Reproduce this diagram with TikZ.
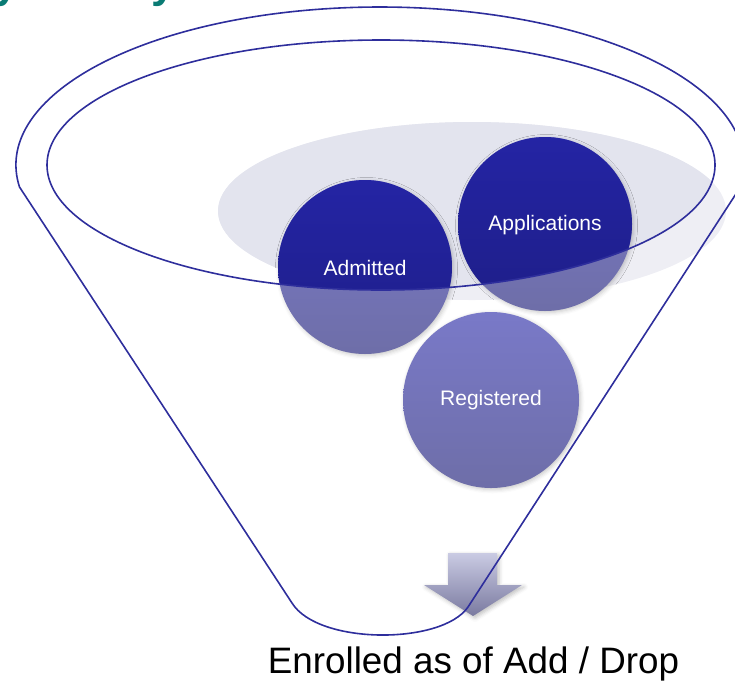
\documentclass[tikz,border=0pt]{standalone}
\usepackage{fontspec}
\setmainfont{Liberation Sans}
\usetikzlibrary{shadows.blur}

\definecolor{funnelline}{HTML}{2E2E9C}
\definecolor{haze}{HTML}{E3E4EE}
\definecolor{hazelight}{HTML}{EEEEF4}
\definecolor{deeptop}{HTML}{2424A4}
\definecolor{deepbot}{HTML}{1E1E88}
\definecolor{softtop}{HTML}{7979C8}
\definecolor{softbot}{HTML}{6E6EA8}
\definecolor{titleteal}{HTML}{0A7B74}
\definecolor{arrowtop}{HTML}{CACBE3}
\definecolor{arrowbot}{HTML}{7A7AA0}

\begin{document}
\begin{tikzpicture}[x=1pt,y=-1pt,
  outline/.style={draw=funnelline, line width=1.6pt},
  bubble/.style={text=white, font=\fontsize{21}{21}\selectfont, inner sep=0pt},
  softshadow/.style={blur shadow={shadow xshift=1.5pt, shadow yshift=-1.5pt,
      shadow opacity=22, shadow blur radius=4pt}},
  rim/.style={insert path={(381,165) ellipse[x radius=334pt, y radius=125pt]}}]

\useasboundingbox (0,0) rectangle (735,681);
\clip (0,0) rectangle (735,681);

% descenders of the heading line above
\node[anchor=base west, text=titleteal, inner sep=0pt,
      font=\fontsize{44}{44}\selectfont\bfseries] (head1) at (-6,-2.5) {y};
\node[anchor=base west, text=titleteal, inner sep=0pt,
      font=\fontsize{44}{44}\selectfont\bfseries] (head2) at (151,-2.5) {y};

% pale pool inside the funnel
\fill[hazelight] (472,211) ellipse[x radius=254pt, y radius=89pt];
\begin{scope}
  \clip[rim];
  \fill[haze] (472,211) ellipse[x radius=254pt, y radius=89pt];
\end{scope}

% the three stages, pale below the rim
\shade[softshadow, top color=softtop, bottom color=softbot]
  (365,267) circle[radius=87pt];
\shade[softshadow, top color=softtop, bottom color=softbot]
  (545,224) circle[radius=87pt];
\shade[softshadow, top color=softtop, bottom color=softbot]
  (491,400) circle[radius=88pt];

% deep colour where they sit inside the rim
\begin{scope}
  \clip[rim];
  \shade[top color=deeptop, bottom color=deepbot] (365,267) circle[radius=87pt];
  \shade[top color=deeptop, bottom color=deepbot] (545,224) circle[radius=87pt];
\end{scope}

% outflow arrow at the spout
\shade[top color=arrowtop, bottom color=arrowbot,
       blur shadow={shadow xshift=2pt, shadow yshift=-2pt, shadow opacity=25, shadow blur radius=4pt}]
  (448,553) -- (497,553) -- (497,585) -- (522,585) -- (473,616)
  -- (424,585) -- (448,585) -- cycle;

% funnel outline
\draw[outline] (19.5,187) arc[start angle=188, end angle=-8, x radius=364pt, y radius=158pt]
  -- (468,607) .. controls (442,645) and (318,645) .. (292,603) -- cycle;
\draw[outline, rim];

% labels
\node[bubble] (admitted) at (365,268) {Admitted};
\node[bubble] (applications) at (545,225) {Applications};
\node[bubble] (registered) at (491,400) {Registered};
\node[anchor=base, inner sep=0pt, font=\fontsize{36.8}{36.8}\selectfont] (enrolled)
  at (473.5,673) {Enrolled as of Add / Drop};
\end{tikzpicture}
\end{document}
